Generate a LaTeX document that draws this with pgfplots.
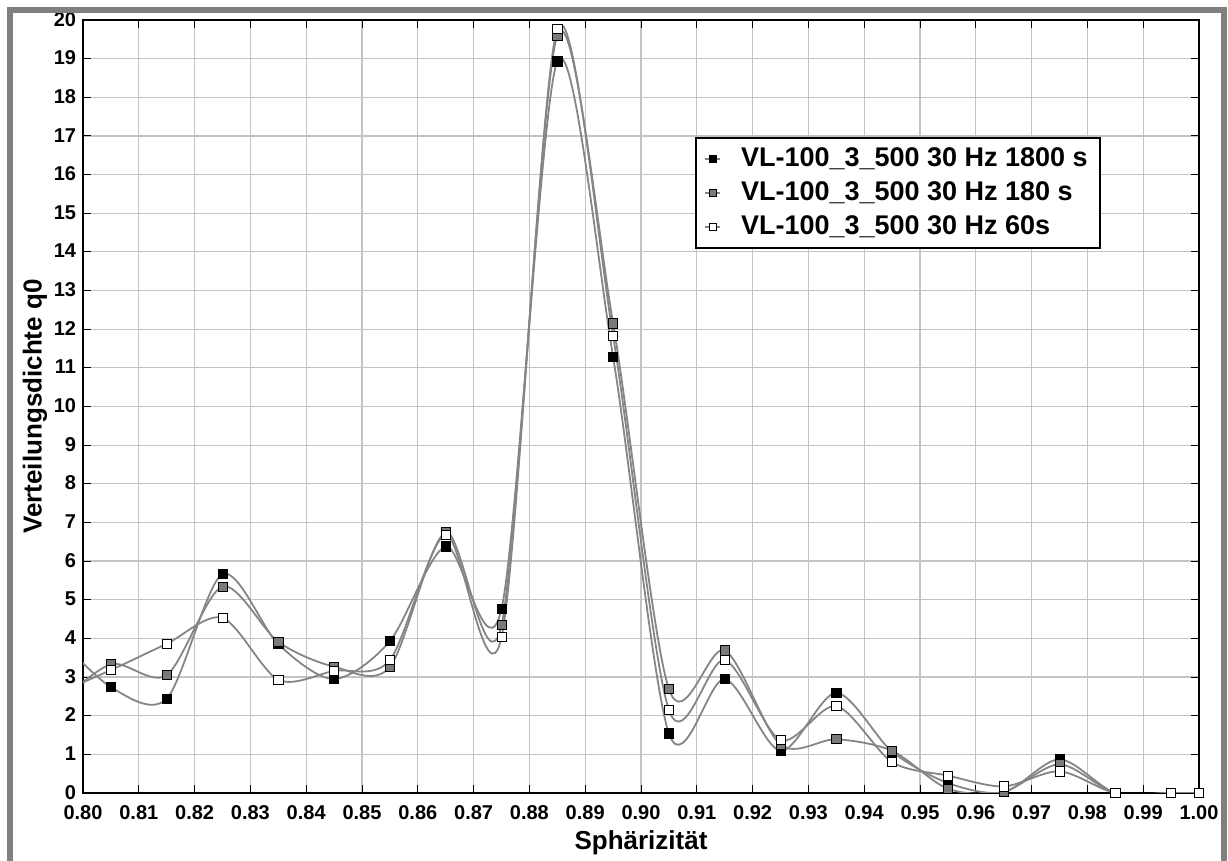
\documentclass[border=0pt]{standalone}
\usepackage{pgfplots}
\pgfplotsset{compat=1.18}
\usepackage{pgfplotstable}
\usepackage{fontspec}
\setmainfont{Liberation Sans}
\definecolor{linegray}{HTML}{858585}
\definecolor{markgray}{HTML}{7A7A7A}
\definecolor{gridgray}{HTML}{C4C4C4}
\definecolor{framegray}{HTML}{808080}
\pgfplotstableread{
x      k      g      w
0.795  4.10   2.25   2.55
0.805  2.74   3.33   3.18
0.815  2.44   3.05   3.86
0.825  5.66   5.34   4.53
0.835  3.85   3.91   2.93
0.845  2.95   3.27   3.16
0.855  3.93   3.26   3.44
0.865  6.38   6.75   6.68
0.875  4.76   4.34   4.03
0.885  18.93  19.60  19.76
0.895  11.28  12.15  11.83
0.905  1.54   2.69   2.15
0.915  2.95   3.69   3.44
0.925  1.09   1.25   1.37
0.935  2.59   1.39   2.25
0.945  1.07   1.09   0.80
0.955  0.26   0.11   0.45
0.965  0.02   0.03   0.17
0.975  0.87   0.74   0.56
0.985  0      0      0
0.995  0      0      0
1.000  0      0      0
}\data
\begin{document}
\begin{tikzpicture}[x=1pt,y=1pt]
\useasboundingbox (-41.5,-34) rectangle (572.5,396.5);
\begin{axis}[
  at={(0,0)}, anchor=south west,
  scale only axis, width=558pt, height=386.5pt,
  xmin=0.8, xmax=1.0, ymin=0, ymax=20,
  xtick={0.80,0.81,0.82,0.83,0.84,0.85,0.86,0.87,0.88,0.89,0.90,0.91,0.92,0.93,0.94,0.95,0.96,0.97,0.98,0.99,1.00},
  ytick={0,1,...,20},
  grid=major, major grid style={gridgray, line width=0.6pt},
  tick align=inside, major tick length=4pt,
  tick style={black, line width=0.5pt},
  axis line style={black, line width=0.6pt},
  /pgf/number format/assume math mode=true,
  tick label style={font=\fontsize{10}{12}\selectfont\bfseries, inner sep=0pt},
  xticklabel style={/pgf/number format/fixed, /pgf/number format/fixed zerofill, /pgf/number format/precision=2, yshift=-6pt},
  yticklabel style={xshift=-3.3pt, yshift=0.4pt},
  label style={font=\fontsize{13}{15}\selectfont\bfseries},
  xlabel={Sphärizität},
  ylabel={Verteilungsdichte q0},
  xlabel style={at={(axis description cs:0.5,0)}, anchor=center, yshift=-25pt},
  ylabel style={at={(axis description cs:-0.0430,0.5)}, anchor=center},
  legend style={at={(rel axis cs:0.5484,0.8486)}, anchor=north west, draw=black, line width=1pt,
    font=\fontsize{13.5}{15}\selectfont\bfseries, inner xsep=4pt, inner ysep=3pt,
    row sep=2pt, nodes={inner sep=2pt},
    /tikz/every odd column/.append style={column sep=8pt}},
  legend cell align=left,
  legend image code/.code={\draw[#1,mark repeat=2,mark phase=2,mark size=1.8pt] plot coordinates {(-3.8pt,0pt)(0pt,0pt)(3.8pt,0pt)};},
]
\addplot[linegray, line width=0.9pt, smooth, mark=square*, mark phase=1, mark size=2.3pt,
  mark options={solid, fill=black, draw=black, line width=0.4pt}] table[x=x,y=k]{\data};
\addlegendentry{VL-100\_3\_500 30 Hz 1800 s}
\addplot[linegray, line width=0.9pt, smooth, mark=square*, mark phase=1, mark size=2.3pt,
  mark options={solid, fill=markgray, draw=black, line width=0.4pt}] table[x=x,y=g]{\data};
\addlegendentry{VL-100\_3\_500 30 Hz 180 s}
\addplot[linegray, line width=0.9pt, smooth, mark=square*, mark phase=1, mark size=2.3pt,
  mark options={solid, fill=white, draw=black, line width=0.4pt}] table[x=x,y=w]{\data};
\addlegendentry{VL-100\_3\_500 30 Hz 60s}
\end{axis}
\draw[framegray, line width=3pt] (-36.5,-40) -- (-36.5,391.5) -- (570.5,391.5) -- (570.5,-40);
\end{tikzpicture}
\end{document}
